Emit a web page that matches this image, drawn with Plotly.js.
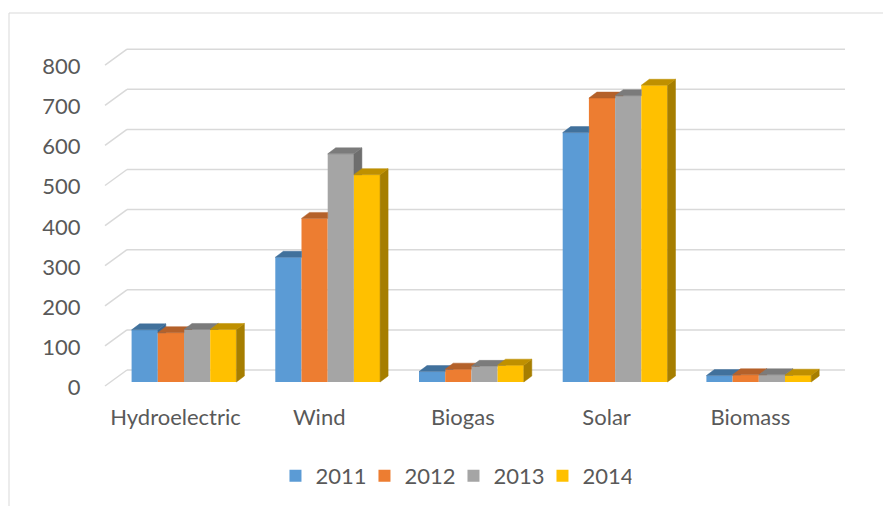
<!DOCTYPE html>
<html>
<head>
<meta charset="utf-8">
<script src="https://cdn.plot.ly/plotly-3.0.1.min.js"></script>
<style>
  html, body { margin: 0; padding: 0; background: #ffffff; }
  #chart { width: 883px; height: 506px; }
</style>
</head>
<body>
<div id="chart"></div>
<script>
// ---- Data ----
var categories = ["Hydroelectric", "Wind", "Biogas", "Solar", "Biomass"];
var seriesNames = ["2011", "2012", "2013", "2014"];
var values2011 = [130, 311, 26, 622, 16];
var values2012 = [123, 408, 32, 708, 18];
var values2013 = [131, 569, 39, 714, 18];
var values2014 = [131, 517, 42, 740, 17];
var yTickValues = [0, 100, 200, 300, 400, 500, 600, 700, 800];
var yTickLabels = ["0", "100", "200", "300", "400", "500", "600", "700", "800"];

// ---- Styles ----
var frontColors = ["#5B9BD5", "#ED7D31", "#A5A5A5", "#FFC000"];
var topColors   = ["#41719C", "#B4612A", "#7B7B7B", "#BF9000"];
var sideColors  = ["#3A6690", "#A0521F", "#6E6E6E", "#A67E00"];
var seriesValues = [values2011, values2012, values2013, values2014];

// geometry (pixels -> data units)
var pxPerCat = 143.7;     // horizontal pixels per category
var pxPerUnit = 0.401;    // vertical pixels per value unit
var barW = 26.2 / pxPerCat;
var depthX = 8 / pxPerCat;
var depthY = 6 / pxPerUnit;
var wallBack = 12 / pxPerUnit;   // back wall is above bar baseline
var wallFront = -4 / pxPerUnit;  // front floor edge
var wallDX = 22 / pxPerCat;
var wallLeft = -57 / pxPerCat;   // back wall left edge relative to first category
var wallRight = 661 / pxPerCat;  // back wall right edge relative to first category

function clipAbove(poly, h) {
  // Sutherland-Hodgman against half-plane y >= h
  var out = [];
  for (var i = 0; i < poly.length; i++) {
    var a = poly[i], b = poly[(i + 1) % poly.length];
    var ain = a[1] >= h, bin = b[1] >= h;
    if (ain) out.push(a);
    if (ain !== bin) {
      var t = (h - a[1]) / (b[1] - a[1]);
      out.push([a[0] + t * (b[0] - a[0]), h]);
    }
  }
  return out;
}

var data = [];
var topTraces = [], sideTraces = [];
for (var k = 0; k < 4; k++) {
  var xs = [];
  for (var i = 0; i < categories.length; i++) xs.push(i + (k - 1.5) * barW);
  data.push({
    type: "bar", name: seriesNames[k], x: xs, y: seriesValues[k],
    width: barW, marker: { color: frontColors[k], line: { width: 0 } },
    hoverinfo: "y+name"
  });
  var tx = [], ty = [], sx = [], sy = [];
  for (var i = 0; i < categories.length; i++) {
    var v = seriesValues[k][i];
    var h = (k < 3) ? seriesValues[k + 1][i] : -1e9;
    var x0 = xs[i] - barW / 2, x1 = xs[i] + barW / 2;
    var topPoly;
    if (h <= v) {
      topPoly = [[x0, v], [x1, v], [x1 + depthX, v + depthY], [x0 + depthX, v + depthY]];
    } else if (h >= v + depthY) {
      topPoly = [[x0, v], [x1, v], [x1, v + depthY], [x0 + depthX, v + depthY]];
    } else {
      var t = (h - v) / depthY;
      topPoly = [[x0, v], [x1, v], [x1, h], [x1 + depthX * t, h], [x1 + depthX, v + depthY], [x0 + depthX, v + depthY]];
    }
    topPoly.forEach(function (p) { tx.push(p[0]); ty.push(p[1]); });
    tx.push(topPoly[0][0]); ty.push(topPoly[0][1]);
    tx.push(null); ty.push(null);
    var sidePoly = [[x1, 0], [x1, v], [x1 + depthX, v + depthY], [x1 + depthX, depthY]];
    sidePoly = clipAbove(sidePoly, h);
    if (sidePoly.length > 2) {
      sidePoly.forEach(function (p) { sx.push(p[0]); sy.push(p[1]); });
      sx.push(sidePoly[0][0]); sy.push(sidePoly[0][1]);
      sx.push(null); sy.push(null);
    }
  }
  sideTraces.push({
    type: "scatter", mode: "lines", x: sx, y: sy, fill: "toself",
    fillcolor: sideColors[k], line: { width: 0.5, color: sideColors[k] },
    hoverinfo: "skip", showlegend: false
  });
  topTraces.push({
    type: "scatter", mode: "lines", x: tx, y: ty, fill: "toself",
    fillcolor: topColors[k], line: { width: 0.5, color: topColors[k] },
    hoverinfo: "skip", showlegend: false
  });
}
for (var k = 0; k < 4; k++) { data.push(sideTraces[k]); data.push(topTraces[k]); }

// gridlines (back wall + floor diagonals)
var shapes = [];
yTickValues.forEach(function (g) {
  shapes.push({
    type: "line", xref: "x", yref: "y", layer: "below",
    x0: wallLeft, x1: wallRight, y0: g + wallBack, y1: g + wallBack,
    line: { color: "#D9D9D9", width: 1.5 }
  });
  shapes.push({
    type: "line", xref: "x", yref: "y", layer: "below",
    x0: wallLeft - wallDX, x1: wallLeft, y0: g + wallFront, y1: g + wallBack,
    line: { color: "#D9D9D9", width: 1.5 }
  });
});
// chart border
var plotH = 506 - 40 - 109;
shapes.push({
  type: "rect", xref: "paper", yref: "paper",
  x0: (9 - 100) / 750, x1: 1.06, y0: -0.34, y1: 1 + 27 / plotH,
  line: { color: "#D9D9D9", width: 1 }, fillcolor: "rgba(0,0,0,0)"
});

var catTicks = categories.map(function (c, i) { return i - 8.5 / pxPerCat; });
var yTicks = yTickValues.map(function (g) { return g - 13; });

var layout = {
  width: 883, height: 506,
  margin: { l: 100, r: 33, t: 40, b: 109, autoexpand: false },
  paper_bgcolor: "#ffffff", plot_bgcolor: "#ffffff",
  font: { family: "Lato, 'Open Sans', sans-serif", size: 22, color: "#595959" },
  barmode: "overlay",
  showlegend: true,
  legend: {
    orientation: "h", x: 0.4713, xanchor: "center", y: 1 - (476 - 40) / plotH, yanchor: "middle",
    font: { size: 22, color: "#595959" }, traceorder: "normal",
    entrywidth: 44, entrywidthmode: "pixels"
  },
  xaxis: {
    range: [-84 / pxPerCat, 666 / pxPerCat],
    tickmode: "array", tickvals: catTicks, ticktext: categories,
    showgrid: false, zeroline: false, showline: false,
    ticks: "outside", ticklen: 1, tickcolor: "rgba(0,0,0,0)",
    fixedrange: true
  },
  yaxis: {
    range: [-15 / pxPerUnit, 342 / pxPerUnit],
    tickmode: "array", tickvals: yTicks, ticktext: yTickLabels,
    showgrid: false, zeroline: false, showline: false,
    ticks: "outside", ticklen: 14, tickcolor: "rgba(0,0,0,0)",
    fixedrange: true
  },
  shapes: shapes
};

Plotly.newPlot("chart", data, layout, { displayModeBar: false, staticPlot: true });
</script>
</body>
</html>
